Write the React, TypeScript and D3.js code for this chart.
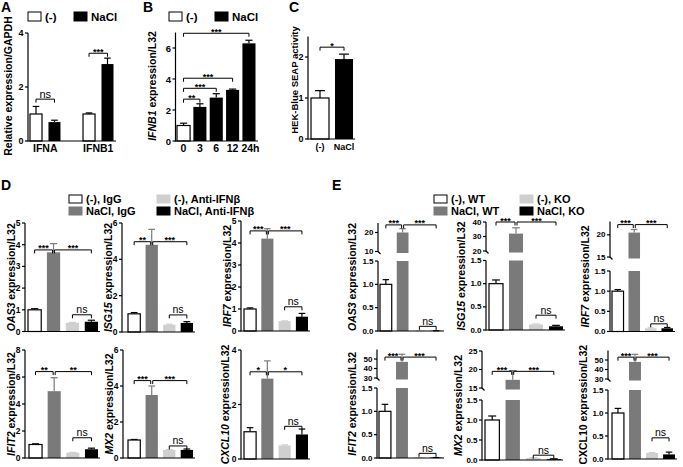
import React from "react";
import * as d3 from "d3";

const FONT = "'Liberation Sans', Arial, Helvetica, sans-serif";
const FILL: Record<string, string> = { w: "#ffffff", k: "#000000", d: "#7a7a7a", l: "#cfcfcf" };
const ERRC: Record<string, string> = { w: "#000000", k: "#000000", d: "#7a7a7a", l: "#cfcfcf" };

// ---------- Panel A ----------
const aCategories = ["IFNA", "IFNB1"];
const aSeries = ["(-)", "NaCl"];
const aCtrlValues = [1.0, 1.0];
const aCtrlErrors = [0.28, 0.04];
const aNaclValues = [0.7, 2.85];
const aNaclErrors = [0.07, 0.22];
const aSignif = ["ns", "***"];
const aSignifLevel = [1.55, 3.25];
const aTicks = [0, 2, 4];

// ---------- Panel B ----------
const bCategories = ["0", "3", "6", "12", "24h"];
const bValues = [1.0, 2.2, 2.8, 3.3, 6.3];
const bErrors = [0.15, 0.2, 0.25, 0.05, 0.2];
const bBracketTo = [1, 2, 3, 4];
const bBracketLevel = [2.7, 3.4, 4.05, 6.95];
const bBracketText = ["**", "***", "***", "***"];
const bTicks = [0, 2, 4, 6];

// ---------- Panel C ----------
const cCategories = ["(-)", "NaCl"];
const cValues = [1.0, 1.95];
const cErrors = [0.18, 0.12];
const cSignif = "*";
const cSignifLevel = 2.24;
const cTicks = [0, 1, 2];

// ---------- Panel D ----------
const dGroups = ["(-), IgG", "NaCl, IgG", "(-), Anti-IFNβ", "NaCl, Anti-IFNβ"];
const dGenes = ["OAS3", "ISG15", "IRF7", "IFIT2", "MX2", "CXCL10"];
const dValues = [
  [1.0, 3.65, 0.4, 0.45],
  [1.0, 4.8, 0.4, 0.5],
  [1.0, 4.2, 0.45, 0.65],
  [1.0, 4.95, 0.4, 0.65],
  [1.0, 3.5, 0.45, 0.45],
  [1.0, 2.95, 0.5, 0.9],
];
const dErrors = [
  [0.05, 0.4, 0.02, 0.07],
  [0.07, 0.85, 0.03, 0.07],
  [0.05, 0.45, 0.01, 0.15],
  [0.05, 1.0, 0.02, 0.08],
  [0.03, 0.5, 0.02, 0.05],
  [0.15, 0.65, 0.02, 0.2],
];
const dSignifLeft = ["***", "**", "***", "**", "***", "*"];
const dSignifRight = ["***", "***", "***", "**", "***", "*"];
const dBracketLevel = [3.76, 4.97, 4.55, 6.4, 4.3, 3.2];
const dNsLevel = [0.77, 0.94, 1.1, 1.5, 0.67, 1.2];
const dMax = [5, 6, 5, 8, 6, 4];
const dTicks = [
  [0, 1, 2, 3, 4, 5],
  [0, 2, 4, 6],
  [0, 1, 2, 3, 4, 5],
  [0, 2, 4, 6, 8],
  [0, 2, 4, 6],
  [0, 2, 4],
];

// ---------- Panel E ----------
const eGroups = ["(-), WT", "NaCl, WT", "(-), KO", "NaCl, KO"];
const eGenes = ["OAS3", "ISG15", "IRF7", "IFIT2", "MX2", "CXCL10"];
const eItalic = [true, true, true, true, true, false];
const eValues = [
  [1.0, 20, 0.005, 0.005],
  [1.0, 32, 0.12, 0.08],
  [1.0, 20.5, 0.08, 0.08],
  [1.0, 47, 0.01, 0.01],
  [1.0, 17.2, 0.05, 0.02],
  [1.0, 48, 0.13, 0.1],
];
const eErrors = [
  [0.1, 2, 0, 0],
  [0.08, 4, 0.01, 0.02],
  [0.04, 0.7, 0.01, 0.02],
  [0.15, 8, 0, 0],
  [0.1, 2.5, 0.01, 0.01],
  [0.1, 8, 0.01, 0.05],
];
const eLowerDomain = [0, 1.5];
const eLowerTicks = [0, 0.5, 1.0, 1.5];
const eUpperDomain = [
  [10, 25],
  [20, 40],
  [15, 23],
  [30, 60],
  [15, 25],
  [30, 60],
];
const eUpperTicks = [
  [10, 20],
  [20, 30, 40],
  [15, 20],
  [30, 40, 50],
  [15, 20, 25],
  [30, 40, 50],
];
const eSignif = ["***", "***", "***", "***", "***", "***"];
const eBracketLevel = [24, 40, 22.3, 52, 19.5, 53];
const eNsLevel = [0.1, 0.32, 0.19, 0.1, 0.12, 0.46];

// ---------- layout (positions only) ----------
const dLayout = [
  { axisX: 25, x0: 28, x1: 98, yBottom: 331.5, yTop: 223, labelX: 11 },
  { axisX: 122, x0: 128, x1: 193, yBottom: 332, yTop: 223, labelX: 108 },
  { axisX: 241, x0: 244, x1: 308, yBottom: 331, yTop: 221, labelX: 227 },
  { axisX: 25, x0: 29, x1: 98, yBottom: 458, yTop: 350, labelX: 11 },
  { axisX: 123, x0: 128, x1: 193, yBottom: 458, yTop: 350, labelX: 109 },
  { axisX: 241, x0: 244, x1: 308, yBottom: 459, yTop: 350, labelX: 225 },
];
const eLayout = [
  { axisX: 378, x0: 380, x1: 442, yBottom: 331, yBreakLow: 261, yBreakHigh: 251.5, yTop: 223, labelX: 352 },
  { axisX: 486, x0: 489, x1: 563, yBottom: 330, yBreakLow: 260.5, yBreakHigh: 251, yTop: 222, labelX: 461 },
  { axisX: 610, x0: 612, x1: 673, yBottom: 331.5, yBreakLow: 271, yBreakHigh: 257, yTop: 221.5, labelX: 585 },
  { axisX: 377, x0: 379, x1: 442, yBottom: 458, yBreakLow: 388, yBreakHigh: 378, yTop: 349.5, labelX: 352 },
  { axisX: 482, x0: 485, x1: 561, yBottom: 460, yBreakLow: 400, yBreakHigh: 388, yTop: 351, labelX: 458 },
  { axisX: 608, x0: 612, x1: 675, yBottom: 459, yBreakLow: 390, yBreakHigh: 379, yTop: 350.5, labelX: 583 },
];
const groupColors = ["w", "d", "l", "k"];

function YAxis({ scale, ticks, x, fmt, fs = 8.5 }: any) {
  const [r0, r1] = scale.range();
  return (
    <g>
      <line x1={x} x2={x} y1={r0 + 0.6} y2={r1} stroke="#000" strokeWidth={1.2} />
      {ticks.map((t: number) => (
        <g key={t}>
          <line x1={x - 3} x2={x} y1={scale(t)} y2={scale(t)} stroke="#000" strokeWidth={1.2} />
          <text x={x - 4.5} y={scale(t)} textAnchor="end" dominantBaseline="central" fontSize={fs} fontWeight="bold">
            {fmt ? fmt(t) : t}
          </text>
        </g>
      ))}
    </g>
  );
}

function Bar({ x, w, yBase, yVal, yErr, c }: any) {
  const cx = x + w / 2;
  const capW = w * 0.55;
  return (
    <g>
      <line x1={cx} x2={cx} y1={yVal} y2={yErr} stroke={ERRC[c]} strokeWidth={1.2} />
      <line x1={cx - capW / 2} x2={cx + capW / 2} y1={yErr} y2={yErr} stroke={ERRC[c]} strokeWidth={1.2} />
      <rect
        x={x}
        y={Math.min(yVal, yBase)}
        width={w}
        height={Math.abs(yBase - yVal)}
        fill={FILL[c]}
        stroke={c === "w" ? "#000" : "none"}
        strokeWidth={1.2}
      />
    </g>
  );
}

function Bracket({ xa, xb, y, text, fs }: any) {
  const isNs = text === "ns";
  return (
    <g>
      <path d={`M${xa},${y + 3.5}V${y}H${xb}V${y + 3.5}`} fill="none" stroke="#000" strokeWidth={1} />
      <text
        x={(xa + xb) / 2}
        y={isNs ? y - 1.5 : y + 1.5}
        textAnchor="middle"
        fontSize={isNs ? fs || 10.5 : 9}
        fontWeight={isNs ? "normal" : "bold"}
      >
        {text}
      </text>
    </g>
  );
}

function YLabel({ x, y, parts, fs = 10.5 }: any) {
  return (
    <text
      transform={`translate(${x},${y}) rotate(-90)`}
      textAnchor="middle"
      dominantBaseline="central"
      fontSize={fs}
      fontWeight="bold"
    >
      {parts.map((p: any, i: number) => (
        <tspan key={i} fontStyle={p[1] ? "italic" : "normal"}>
          {p[0]}
        </tspan>
      ))}
    </text>
  );
}

function LegendItem({ x, y, c, label, bw = 13, bh = 8, fs = 11 }: any) {
  return (
    <g>
      <rect x={x} y={y - bh / 2} width={bw} height={bh} fill={FILL[c]} stroke={c === "w" ? "#000" : FILL[c]} strokeWidth={1} />
      <text x={x + bw + 4} y={y} dominantBaseline="central" fontSize={fs} fontWeight="bold">
        {label}
      </text>
    </g>
  );
}

function PanelA() {
  const y = d3.scaleLinear().domain([0, 4]).range([141, 33]);
  const outer = d3.scaleBand().domain(aCategories).range([30, 113.5]).paddingInner(0.425);
  const inner = d3.scaleBand().domain(aSeries).range([0, outer.bandwidth()]).paddingInner(0.35);
  const w = inner.bandwidth();
  return (
    <g>
      <text x={1} y={12} fontSize={14} fontWeight="bold">A</text>
      <LegendItem x={28} y={16.5} c="w" label={aSeries[0]} bh={9} fs={11.5} />
      <LegendItem x={74} y={16.5} c="k" label={aSeries[1]} bh={9} fs={11.5} />
      <YLabel x={8} y={86} parts={[["Relative expression/GAPDH", false]]} fs={10.5} />
      {aCategories.map((cat, i) => {
        const x0 = outer(cat)!;
        const xc = x0 + inner(aSeries[0])!;
        const xn = x0 + inner(aSeries[1])!;
        const lvl = y(aSignifLevel[i]);
        return (
          <g key={cat}>
            <Bar x={xc} w={w} yBase={y(0)} yVal={y(aCtrlValues[i])} yErr={y(aCtrlValues[i] + aCtrlErrors[i])} c="w" />
            <Bar x={xn} w={w} yBase={y(0)} yVal={y(aNaclValues[i])} yErr={y(aNaclValues[i] + aNaclErrors[i])} c="k" />
            <Bracket xa={xc + w / 2} xb={xn + w / 2} y={lvl} text={aSignif[i]} fs={11} />
            <text x={x0 + outer.bandwidth() / 2} y={152} textAnchor="middle" fontSize={10.5} fontWeight="bold">
              {cat}
            </text>
          </g>
        );
      })}
      <line x1={28} x2={116} y1={y(0)} y2={y(0)} stroke="#000" strokeWidth={1.2} />
      <YAxis scale={y} ticks={aTicks} x={28} fs={9} />
    </g>
  );
}

function PanelB() {
  const y = d3.scaleLinear().domain([0, 7]).range([141, 32.5]);
  const x = d3.scaleBand().domain(bCategories).range([177, 255.5]).paddingInner(0.2);
  const w = x.bandwidth();
  const cx = (c: string) => x(c)! + w / 2;
  return (
    <g>
      <text x={143} y={12} fontSize={14} fontWeight="bold">B</text>
      <LegendItem x={169} y={16.5} c="w" label="(-)" bh={9} fs={11.5} />
      <LegendItem x={215} y={16.5} c="k" label="NaCl" bh={9} fs={11.5} />
      <YLabel x={152} y={86} parts={[["IFNB1", true], [" expression/L32", false]]} fs={10.5} />
      {bCategories.map((c, i) => (
        <g key={c}>
          <Bar x={x(c)} w={w} yBase={y(0)} yVal={y(bValues[i])} yErr={y(bValues[i] + bErrors[i])} c={i === 0 ? "w" : "k"} />
          <text x={cx(c) + (i === 4 ? 1.5 : 0)} y={152} textAnchor="middle" fontSize={10.5} fontWeight="bold">{c}</text>
        </g>
      ))}
      {bBracketTo.map((t, i) => (
        <Bracket key={i} xa={cx(bCategories[0])} xb={cx(bCategories[t])} y={y(bBracketLevel[i])} text={bBracketText[i]} />
      ))}
      <line x1={175.5} x2={258} y1={y(0)} y2={y(0)} stroke="#000" strokeWidth={1.2} />
      <YAxis scale={y} ticks={bTicks} x={175.5} fs={9.5} />
    </g>
  );
}

function PanelC() {
  const y = d3.scaleLinear().domain([0, 2.5]).range([139, 36.5]);
  const x = d3.scaleBand().domain(cCategories).range([311, 353]).paddingInner(0.25);
  const w = x.bandwidth();
  const cx = (c: string) => x(c)! + w / 2;
  return (
    <g>
      <text x={289} y={12} fontSize={14} fontWeight="bold">C</text>
      <YLabel x={294} y={80} parts={[["HEK-Blue SEAP activity", false]]} fs={9.5} />
      {cCategories.map((c, i) => (
        <g key={c}>
          <Bar x={x(c)} w={w} yBase={y(0)} yVal={y(cValues[i])} yErr={y(cValues[i] + cErrors[i])} c={i === 0 ? "w" : "k"} />
          <text x={cx(c)} y={150} textAnchor="middle" fontSize={9} fontWeight="bold">{c}</text>
        </g>
      ))}
      <Bracket xa={cx(cCategories[0])} xb={cx(cCategories[1])} y={y(cSignifLevel)} text={cSignif} />
      <line x1={308} x2={355} y1={y(0)} y2={y(0)} stroke="#000" strokeWidth={1.2} />
      <YAxis scale={y} ticks={cTicks} x={308} fs={9} />
    </g>
  );
}

function DChart({ idx }: { idx: number }) {
  const L = dLayout[idx];
  const x = d3.scaleBand().domain(dGroups).range([L.x0, L.x1]).paddingInner(0.3);
  const y = d3.scaleLinear().domain([0, dMax[idx]]).range([L.yBottom, L.yTop]);
  const w = x.bandwidth();
  const cx = (i: number) => x(dGroups[i])! + w / 2;
  const lvl = y(dBracketLevel[idx]);
  return (
    <g>
      {dGroups.map((g, i) => (
        <Bar
          key={g}
          x={x(g)}
          w={w}
          yBase={y(0)}
          yVal={y(dValues[idx][i])}
          yErr={y(dValues[idx][i] + dErrors[idx][i])}
          c={groupColors[i]}
        />
      ))}
      <Bracket xa={cx(0)} xb={cx(1) - 1} y={lvl} text={dSignifLeft[idx]} />
      <Bracket xa={cx(1) + 1} xb={cx(3)} y={lvl} text={dSignifRight[idx]} />
      <Bracket xa={cx(2)} xb={cx(3)} y={y(dNsLevel[idx])} text="ns" />
      <line x1={L.axisX} x2={L.x1 + 2} y1={y(0)} y2={y(0)} stroke="#000" strokeWidth={1.2} />
      <YAxis scale={y} ticks={dTicks[idx]} x={L.axisX} />
      <YLabel x={L.labelX} y={(L.yBottom + L.yTop) / 2} parts={[[dGenes[idx], true], [" expression/L32", false]]} />
    </g>
  );
}

function EChart({ idx }: { idx: number }) {
  const L = eLayout[idx];
  const x = d3.scaleBand().domain(eGroups).range([L.x0, L.x1]).paddingInner(0.3);
  const yLo = d3.scaleLinear().domain(eLowerDomain).range([L.yBottom, L.yBreakLow]);
  const yHi = d3.scaleLinear().domain(eUpperDomain[idx]).range([L.yBreakHigh, L.yTop]);
  const w = x.bandwidth();
  const cx = (i: number) => x(eGroups[i])! + w / 2;
  const loMax = eLowerDomain[1];
  const hiMin = eUpperDomain[idx][0];
  const lvl = yHi(eBracketLevel[idx]);
  return (
    <g>
      {eGroups.map((g, i) => {
        const v = eValues[idx][i];
        const e = eErrors[idx][i];
        const c = groupColors[i];
        if (v <= loMax) {
          return <Bar key={g} x={x(g)} w={w} yBase={yLo(0)} yVal={yLo(v)} yErr={yLo(v + e)} c={c} />;
        }
        return (
          <g key={g}>
            <rect x={x(g)} y={yLo(loMax)} width={w} height={yLo(0) - yLo(loMax)} fill={FILL[c]} />
            <Bar x={x(g)} w={w} yBase={yHi(hiMin) + 1.5} yVal={yHi(v)} yErr={yHi(v + e)} c={c} />
          </g>
        );
      })}
      <Bracket xa={cx(0)} xb={cx(1) - 1} y={lvl} text={eSignif[idx]} />
      <Bracket xa={cx(1) + 1} xb={cx(3)} y={lvl} text={eSignif[idx]} />
      <Bracket xa={cx(2)} xb={cx(3)} y={yLo(eNsLevel[idx])} text="ns" />
      <line x1={L.axisX} x2={L.x1 + 2} y1={yLo(0)} y2={yLo(0)} stroke="#000" strokeWidth={1.2} />
      <YAxis scale={yLo} ticks={eLowerTicks} x={L.axisX} fs={8} fmt={(t: number) => d3.format(".1f")(t)} />
      <YAxis scale={yHi} ticks={eUpperTicks[idx]} x={L.axisX} fs={8} />
      <path d={`M${L.axisX},${L.yBreakHigh}l2.5,2.5`} stroke="#000" strokeWidth={1.2} fill="none" />
      <YLabel
        x={L.labelX}
        y={(L.yBottom + L.yTop) / 2}
        parts={[[eGenes[idx], eItalic[idx]], [" expression/L32", false]]}
      />
    </g>
  );
}

function Legend4({ groups, cols, rows }: any) {
  const order = [
    [0, 0, 0],
    [2, 1, 0],
    [1, 0, 1],
    [3, 1, 1],
  ];
  return (
    <g>
      {order.map(([gi, ci, ri]) => (
        <LegendItem key={gi} x={cols[ci]} y={rows[ri]} c={groupColors[gi]} label={groups[gi]} />
      ))}
    </g>
  );
}

export default function App() {
  return (
    <svg
      width={683}
      height={467}
      style={{ position: "absolute", left: 0, top: 0, background: "#fff" }}
      fontFamily={FONT}
    >
      <rect width={683} height={467} fill="#fff" />
      <PanelA />
      <PanelB />
      <PanelC />
      <text x={1} y={190} fontSize={14} fontWeight="bold">D</text>
      <Legend4 groups={dGroups} cols={[69, 157]} rows={[199, 211]} />
      {dGenes.map((g, i) => (
        <DChart key={g} idx={i} />
      ))}
      <text x={332} y={190} fontSize={14} fontWeight="bold">E</text>
      <Legend4 groups={eGroups} cols={[434, 520]} rows={[199, 211]} />
      {eGenes.map((g, i) => (
        <EChart key={g} idx={i} />
      ))}
    </svg>
  );
}
